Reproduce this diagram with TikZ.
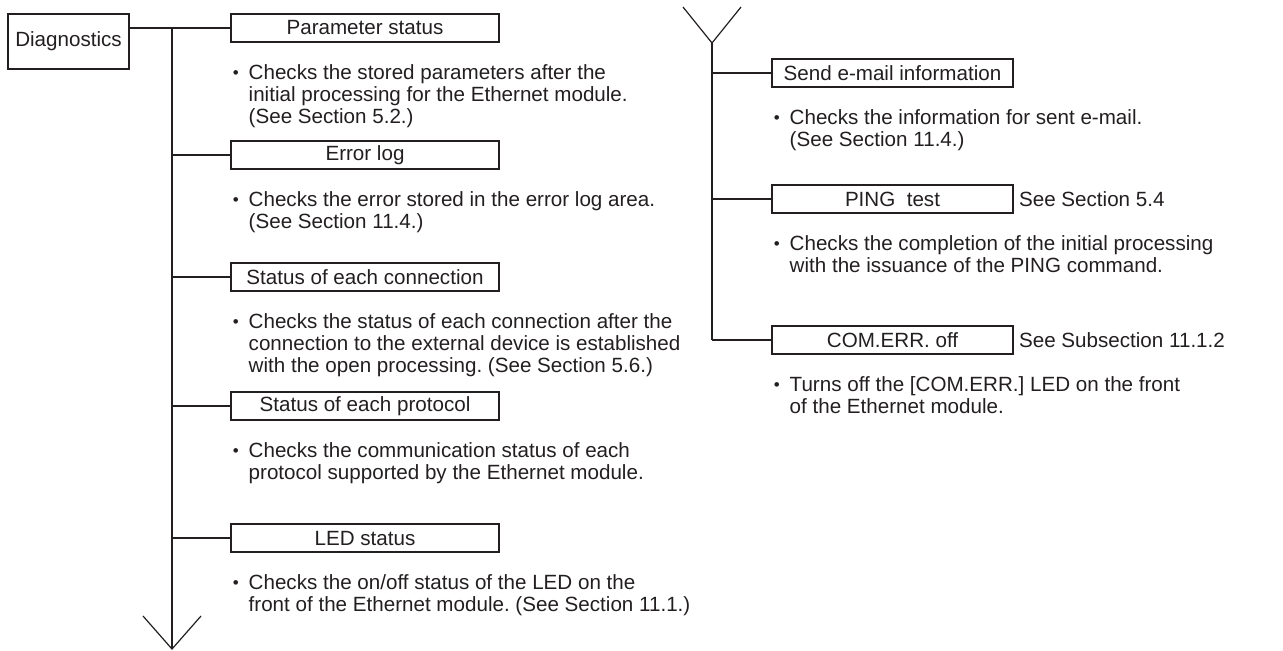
\documentclass[tikz,border=0pt]{standalone}
\usepackage{fontspec}
\setmainfont{Liberation Sans}
\usetikzlibrary{positioning}
\definecolor{Ink}{HTML}{231F20}
\frenchspacing
\newcommand{\bul}{\llap{\raisebox{0.3pt}{\fontsize{8.5}{8.5}\selectfont\textbullet}\hspace{5pt}}}

\begin{document}
\begin{tikzpicture}[x=0.5pt,y=-0.5pt,
    every node/.style={text=Ink,font=\fontsize{10.3}{11}\selectfont},
    item/.style={draw=Ink,line width=0.7pt,minimum width=134pt,minimum height=14pt,inner sep=0pt},
    ritem/.style={item,minimum width=120.5pt},
    desc/.style={align=left,inner sep=0pt,below right=10.5pt and 9pt of #1.south west},
    trunk/.style={draw=Ink,line width=1pt},
    vmark/.style={draw=Ink,line width=0.6pt}
  ]
    \useasboundingbox (0,0) rectangle (1283,650);
    \node[draw=Ink,line width=0.7pt,minimum width=60.5pt,minimum height=27.5pt,inner sep=0pt] (diag) at (68.5,41.5) {Diagnostics};
    \node[item] (pstat) at (365,28) {Parameter status};
    \node[desc=pstat] (pdesc) {\bul Checks the stored parameters after the\\initial processing for the Ethernet module.\\(See Section 5.2.)};
    \node[item] (err) at (365,155) {Error log};
    \node[desc=err] (edesc) {\bul Checks the error stored in the error log area.\\(See Section 11.4.)};
    \node[item] (conn) at (365,277) {Status of each connection};
    \node[desc=conn] (cdesc) {\bul Checks the status of each connection after the\\connection to the external device is established\\with the open processing. (See Section 5.6.)};
    \node[item] (proto) at (365,406) {Status of each protocol};
    \node[desc=proto] (prdesc) {\bul Checks the communication status of each\\protocol supported by the Ethernet module.};
    \node[item] (led) at (365,538) {LED status};
    \node[desc=led] (ldesc) {\bul Checks the on/off status of the LED on the\\front of the Ethernet module. (See Section 11.1.)};
    \coordinate (ltop) at (172,28);
    \coordinate (lbot) at (172,649);
    \draw[trunk] (diag.east |- pstat) -- (pstat.west);
    \draw[trunk] (ltop) -- (lbot);
    \foreach \b in {err,conn,proto,led}\draw[trunk](ltop |- \b)--(\b.west);
    \draw[vmark] (lbot) ++(-29,-33) -- (lbot) -- ++(29,-33);

    \node[ritem] (mail) at (892.5,73) {Send e-mail information};
    \node[desc=mail] (mdesc) {\bul Checks the information for sent e-mail.\\(See Section 11.4.)};
    \node[ritem] (ping) at (892.5,199) {PING\ \ test};
    \node[inner sep=0pt,right=2.5pt of ping] (pingref) {See Section 5.4};
    \node[desc=ping] (pidesc) {\bul Checks the completion of the initial processing\\with the issuance of the PING command.};
    \node[ritem] (comerr) at (892.5,340) {COM.ERR. off};
    \node[inner sep=0pt,right=2.5pt of comerr] (comref) {See Subsection 11.1.2};
    \node[desc=comerr] (codesc) {\bul Turns off the [COM.ERR.] LED on the front\\of the Ethernet module.};
    \coordinate (rtop) at (712,43);
    \draw[vmark] (rtop) ++(-29,-36) -- (rtop) -- ++(29,-36);
    \draw[trunk] (rtop) -- (rtop |- comerr);
    \foreach \b in {mail,ping,comerr}\draw[trunk](rtop |- \b)--(\b.west);
  \end{tikzpicture}
\end{document}
